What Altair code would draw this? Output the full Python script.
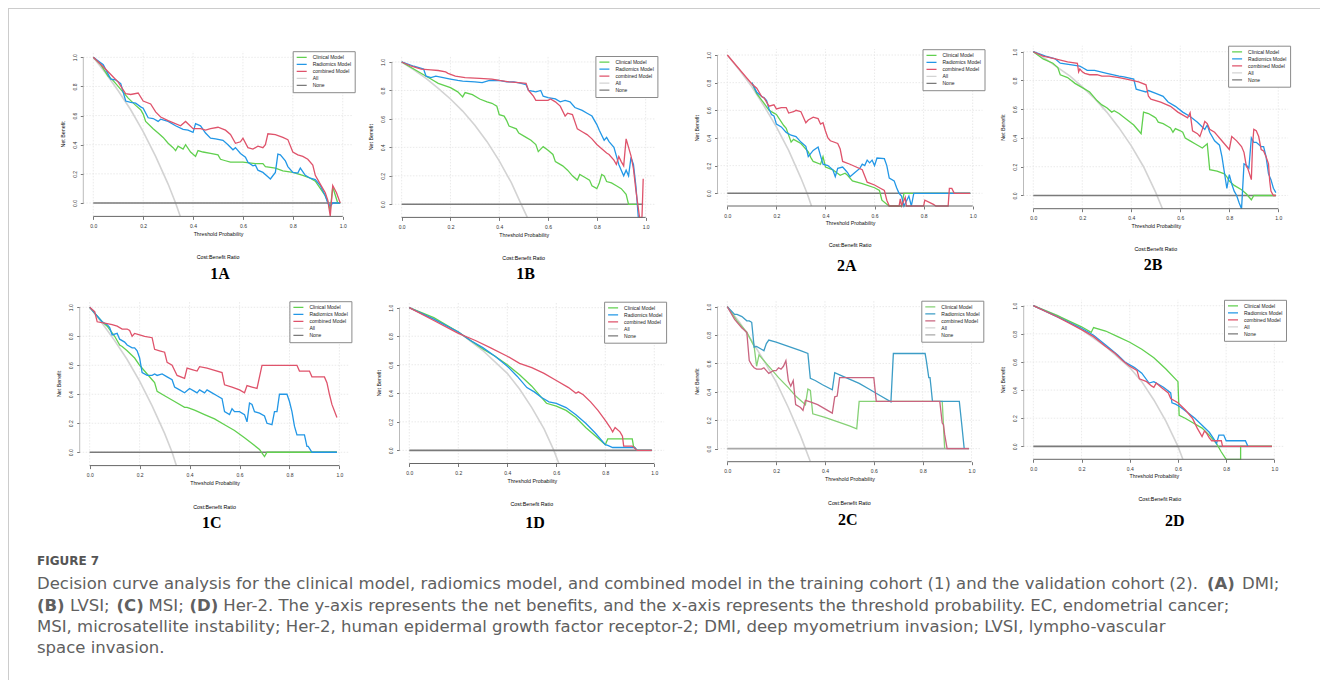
import altair as alt
import pandas as pd

SERIES = ["Clinical Model", "Radiomics Model", "combined Model", "All", "None"]
PALETTE = ["#61D04F", "#2297E6", "#DF536B", "#D3D3D3", "#7A7A7A"]
PALETTE_2C = ["#86D176", "#3C9DC6", "#C9647F", "#D3D3D3", "#A8A8A8"]
TICKS = [0.0, 0.2, 0.4, 0.6, 0.8, 1.0]
NONE_PTS = [(0.0, 0.0), (0.99, 0.0)]

# ---------------- 1A ----------------
A1_CLIN = [(0, 1.0), (0.03, 0.95), (0.06, 0.87), (0.08, 0.84), (0.11, 0.78), (0.14, 0.72), (0.17, 0.67),
           (0.19, 0.64), (0.20, 0.61), (0.21, 0.56), (0.24, 0.51), (0.26, 0.48), (0.28, 0.45), (0.30, 0.41),
           (0.32, 0.38), (0.33, 0.36), (0.34, 0.39), (0.36, 0.37), (0.37, 0.40), (0.39, 0.35), (0.41, 0.32),
           (0.42, 0.36), (0.44, 0.35), (0.47, 0.34), (0.50, 0.33), (0.51, 0.30), (0.53, 0.29), (0.55, 0.28),
           (0.60, 0.28), (0.65, 0.27), (0.68, 0.27), (0.69, 0.25), (0.73, 0.24), (0.76, 0.22), (0.80, 0.21),
           (0.84, 0.19), (0.87, 0.17), (0.89, 0.15), (0.91, 0.10), (0.93, 0.05), (0.94, 0.01), (0.95, -0.05),
           (0.96, 0.11), (0.98, 0.0), (0.99, 0.0)]
A1_RAD = [(0, 1.0), (0.04, 0.95), (0.07, 0.85), (0.09, 0.845), (0.11, 0.82), (0.13, 0.70), (0.15, 0.69),
          (0.17, 0.685), (0.19, 0.66), (0.20, 0.65), (0.22, 0.585), (0.24, 0.58), (0.26, 0.56), (0.27, 0.575),
          (0.30, 0.56), (0.33, 0.53), (0.36, 0.505), (0.38, 0.50), (0.40, 0.485), (0.41, 0.545), (0.43, 0.53),
          (0.45, 0.48), (0.47, 0.445), (0.49, 0.44), (0.52, 0.43), (0.54, 0.40), (0.56, 0.365), (0.57, 0.38),
          (0.59, 0.34), (0.61, 0.315), (0.62, 0.28), (0.64, 0.255), (0.65, 0.26), (0.66, 0.225), (0.68, 0.21),
          (0.70, 0.18), (0.71, 0.165), (0.73, 0.21), (0.74, 0.335), (0.75, 0.33), (0.77, 0.29), (0.78, 0.25),
          (0.80, 0.21), (0.82, 0.205), (0.83, 0.24), (0.85, 0.19), (0.87, 0.17), (0.89, 0.16), (0.91, 0.12),
          (0.93, 0.05), (0.94, 0.0), (0.95, -0.02), (0.96, 0.0), (0.99, 0.0)]
A1_COMB = [(0, 1.0), (0.04, 0.935), (0.08, 0.865), (0.10, 0.83), (0.13, 0.75), (0.15, 0.745), (0.18, 0.755),
           (0.20, 0.70), (0.23, 0.68), (0.25, 0.625), (0.27, 0.59), (0.30, 0.565), (0.35, 0.53), (0.37, 0.56),
           (0.40, 0.51), (0.43, 0.51), (0.45, 0.50), (0.47, 0.51), (0.50, 0.52), (0.53, 0.50), (0.55, 0.47),
           (0.57, 0.41), (0.59, 0.42), (0.60, 0.445), (0.62, 0.38), (0.64, 0.37), (0.66, 0.39), (0.68, 0.38),
           (0.69, 0.40), (0.70, 0.475), (0.73, 0.47), (0.76, 0.45), (0.78, 0.435), (0.80, 0.35), (0.82, 0.33),
           (0.84, 0.32), (0.86, 0.30), (0.88, 0.26), (0.89, 0.19), (0.91, 0.13), (0.93, 0.07), (0.94, 0.02),
           (0.95, -0.09), (0.96, 0.12), (0.975, 0.07), (0.99, 0.0)]
A1_ALL = [(0, 1.0), (0.05, 0.89), (0.10, 0.77), (0.15, 0.64), (0.20, 0.49), (0.25, 0.32), (0.30, 0.13),
          (0.33, 0.0), (0.349, -0.092)]

# ---------------- 1B ----------------
B1_CLIN = [(0, 1.0), (0.03, 0.97), (0.06, 0.94), (0.09, 0.91), (0.12, 0.88), (0.15, 0.85), (0.20, 0.82),
           (0.23, 0.79), (0.25, 0.755), (0.26, 0.785), (0.29, 0.77), (0.32, 0.74), (0.35, 0.72), (0.37, 0.71),
           (0.39, 0.69), (0.40, 0.63), (0.42, 0.62), (0.43, 0.59), (0.44, 0.55), (0.47, 0.53), (0.48, 0.50),
           (0.51, 0.47), (0.53, 0.45), (0.55, 0.42), (0.56, 0.37), (0.58, 0.405), (0.60, 0.38), (0.62, 0.35),
           (0.63, 0.30), (0.66, 0.27), (0.68, 0.24), (0.70, 0.20), (0.72, 0.17), (0.73, 0.21), (0.75, 0.19),
           (0.77, 0.17), (0.78, 0.13), (0.80, 0.11), (0.81, 0.15), (0.82, 0.21), (0.83, 0.20), (0.84, 0.16),
           (0.86, 0.15), (0.88, 0.13), (0.90, 0.11), (0.92, 0.07), (0.93, 0.0), (0.97, 0.0)]
B1_RAD = [(0, 1.0), (0.05, 0.97), (0.09, 0.95), (0.10, 0.90), (0.12, 0.89), (0.14, 0.90), (0.17, 0.89),
          (0.20, 0.88), (0.23, 0.87), (0.25, 0.865), (0.30, 0.86), (0.33, 0.855), (0.36, 0.87), (0.40, 0.87),
          (0.43, 0.86), (0.46, 0.86), (0.49, 0.85), (0.51, 0.84), (0.52, 0.80), (0.55, 0.79), (0.57, 0.80),
          (0.58, 0.76), (0.60, 0.75), (0.63, 0.74), (0.65, 0.72), (0.67, 0.73), (0.69, 0.72), (0.71, 0.68),
          (0.74, 0.66), (0.76, 0.64), (0.78, 0.62), (0.80, 0.56), (0.81, 0.52), (0.83, 0.45), (0.84, 0.47),
          (0.85, 0.44), (0.87, 0.40), (0.88, 0.34), (0.89, 0.28), (0.90, 0.24), (0.91, 0.20), (0.92, 0.24),
          (0.93, 0.20), (0.94, 0.33), (0.95, 0.28), (0.96, 0.13), (0.97, -0.092)]
B1_COMB = [(0, 1.0), (0.04, 0.97), (0.08, 0.95), (0.12, 0.945), (0.15, 0.94), (0.18, 0.93), (0.19, 0.92),
           (0.22, 0.90), (0.26, 0.89), (0.32, 0.885), (0.37, 0.88), (0.40, 0.87), (0.44, 0.86), (0.48, 0.855),
           (0.51, 0.85), (0.52, 0.80), (0.53, 0.78), (0.54, 0.76), (0.55, 0.73), (0.58, 0.73), (0.60, 0.73),
           (0.61, 0.74), (0.63, 0.72), (0.65, 0.69), (0.67, 0.62), (0.68, 0.64), (0.70, 0.63), (0.72, 0.53),
           (0.74, 0.51), (0.76, 0.49), (0.78, 0.46), (0.80, 0.42), (0.82, 0.39), (0.84, 0.36), (0.85, 0.35),
           (0.87, 0.31), (0.88, 0.28), (0.89, 0.335), (0.90, 0.30), (0.91, 0.27), (0.92, 0.46), (0.93, 0.40),
           (0.94, 0.34), (0.95, 0.25), (0.96, 0.10), (0.975, -0.092), (0.985, -0.092), (0.99, 0.18)]
B1_ALL = [(0, 1.0), (0.05, 0.945), (0.10, 0.885), (0.15, 0.815), (0.20, 0.74), (0.25, 0.655), (0.30, 0.555),
          (0.35, 0.44), (0.40, 0.305), (0.45, 0.15), (0.49, 0.0), (0.515, -0.092)]

# ---------------- 2A ----------------
A2_CLIN = [(0.10, 0.80), (0.12, 0.72), (0.15, 0.65), (0.17, 0.60), (0.19, 0.58), (0.20, 0.57), (0.23, 0.49),
           (0.24, 0.47), (0.26, 0.37), (0.27, 0.39), (0.30, 0.36), (0.33, 0.30), (0.34, 0.26), (0.35, 0.23),
           (0.38, 0.21), (0.39, 0.265), (0.40, 0.19), (0.43, 0.17), (0.46, 0.13), (0.48, 0.145), (0.49, 0.13),
           (0.51, 0.09), (0.55, 0.07), (0.60, 0.04), (0.62, 0.02), (0.63, -0.05), (0.65, -0.08), (0.66, -0.092),
           (0.71, -0.092), (0.72, 0.0), (0.99, 0.0)]
A2_RAD = [(0.10, 0.80), (0.12, 0.73), (0.14, 0.70), (0.15, 0.69), (0.16, 0.67), (0.17, 0.61), (0.18, 0.57),
          (0.19, 0.56), (0.20, 0.50), (0.22, 0.48), (0.24, 0.44), (0.26, 0.42), (0.28, 0.41), (0.30, 0.37),
          (0.32, 0.34), (0.33, 0.265), (0.35, 0.31), (0.37, 0.335), (0.38, 0.27), (0.39, 0.21), (0.41, 0.20),
          (0.43, 0.17), (0.44, 0.12), (0.45, 0.18), (0.47, 0.19), (0.48, 0.17), (0.49, 0.15), (0.50, 0.12),
          (0.52, 0.15), (0.54, 0.18), (0.55, 0.21), (0.56, 0.20), (0.57, 0.24), (0.58, 0.22), (0.59, 0.24),
          (0.60, 0.20), (0.61, 0.255), (0.64, 0.25), (0.65, 0.20), (0.66, 0.11), (0.68, 0.09), (0.69, 0.04),
          (0.70, 0.0), (0.71, -0.02), (0.72, -0.092), (0.74, -0.02), (0.75, -0.092), (0.76, 0.0), (0.99, 0.0)]
A2_COMB = [(0, 1.0), (0.10, 0.79), (0.12, 0.76), (0.14, 0.70), (0.15, 0.69), (0.17, 0.63), (0.19, 0.64),
           (0.20, 0.61), (0.22, 0.62), (0.24, 0.62), (0.25, 0.58), (0.27, 0.59), (0.28, 0.60), (0.30, 0.59),
           (0.31, 0.55), (0.32, 0.51), (0.33, 0.53), (0.35, 0.55), (0.37, 0.54), (0.38, 0.50), (0.39, 0.51),
           (0.40, 0.45), (0.41, 0.40), (0.42, 0.38), (0.45, 0.36), (0.46, 0.32), (0.47, 0.23), (0.50, 0.21),
           (0.55, 0.17), (0.57, 0.08), (0.60, 0.06), (0.62, 0.04), (0.64, 0.02), (0.65, -0.05), (0.66, -0.092),
           (0.70, -0.092), (0.705, -0.04), (0.71, -0.092), (0.725, -0.03), (0.73, -0.092), (0.80, -0.092),
           (0.805, -0.05), (0.84, -0.08), (0.85, -0.092), (0.90, -0.092), (0.905, 0.035), (0.915, 0.035),
           (0.925, 0.0), (0.99, 0.0)]
A2_ALL = [(0, 1.0), (0.05, 0.89), (0.10, 0.77), (0.15, 0.63), (0.20, 0.48), (0.25, 0.31), (0.30, 0.11),
          (0.325, 0.0), (0.343, -0.092)]

# ---------------- 2B ----------------
B2_CLIN = [(0, 1.0), (0.04, 0.95), (0.08, 0.92), (0.10, 0.89), (0.11, 0.84), (0.14, 0.82), (0.17, 0.78),
           (0.20, 0.75), (0.23, 0.72), (0.24, 0.70), (0.26, 0.66), (0.28, 0.63), (0.30, 0.61), (0.32, 0.58),
           (0.33, 0.59), (0.35, 0.57), (0.38, 0.53), (0.41, 0.49), (0.43, 0.45), (0.44, 0.43), (0.45, 0.58),
           (0.47, 0.57), (0.49, 0.55), (0.50, 0.54), (0.51, 0.51), (0.53, 0.50), (0.55, 0.48), (0.56, 0.47),
           (0.57, 0.44), (0.58, 0.465), (0.60, 0.45), (0.61, 0.44), (0.62, 0.40), (0.64, 0.38), (0.66, 0.36),
           (0.69, 0.33), (0.71, 0.36), (0.72, 0.18), (0.75, 0.17), (0.78, 0.15), (0.79, 0.13), (0.80, 0.10),
           (0.82, 0.07), (0.85, 0.04), (0.87, 0.01), (0.89, -0.03), (0.90, 0.0), (0.99, 0.0)]
B2_RAD = [(0, 1.0), (0.05, 0.97), (0.09, 0.95), (0.11, 0.92), (0.15, 0.91), (0.19, 0.90), (0.20, 0.89),
          (0.22, 0.87), (0.25, 0.87), (0.30, 0.85), (0.35, 0.83), (0.37, 0.825), (0.41, 0.81), (0.42, 0.74),
          (0.44, 0.73), (0.46, 0.72), (0.47, 0.73), (0.50, 0.71), (0.53, 0.69), (0.55, 0.65), (0.58, 0.62),
          (0.61, 0.58), (0.64, 0.55), (0.67, 0.51), (0.70, 0.46), (0.71, 0.49), (0.72, 0.44), (0.74, 0.38),
          (0.76, 0.35), (0.77, 0.27), (0.78, 0.16), (0.79, 0.05), (0.80, 0.145), (0.81, 0.08), (0.82, 0.03),
          (0.83, 0.0), (0.84, -0.05), (0.85, -0.092), (0.86, 0.22), (0.87, 0.21), (0.88, 0.19), (0.89, 0.40),
          (0.90, 0.37), (0.91, 0.37), (0.93, 0.34), (0.94, 0.34), (0.95, 0.27), (0.96, 0.15), (0.97, 0.11),
          (0.98, 0.05), (0.99, 0.02)]
B2_COMB = [(0, 1.0), (0.04, 0.97), (0.09, 0.95), (0.14, 0.93), (0.18, 0.92), (0.185, 0.86), (0.19, 0.88),
           (0.20, 0.86), (0.21, 0.85), (0.23, 0.84), (0.26, 0.84), (0.28, 0.83), (0.31, 0.83), (0.35, 0.82),
           (0.38, 0.81), (0.43, 0.79), (0.46, 0.77), (0.47, 0.69), (0.48, 0.67), (0.52, 0.65), (0.56, 0.62),
           (0.59, 0.58), (0.63, 0.54), (0.64, 0.575), (0.65, 0.45), (0.67, 0.43), (0.68, 0.41), (0.69, 0.46),
           (0.70, 0.515), (0.71, 0.50), (0.72, 0.46), (0.74, 0.44), (0.75, 0.42), (0.76, 0.40), (0.78, 0.36),
           (0.80, 0.32), (0.81, 0.41), (0.83, 0.38), (0.85, 0.34), (0.86, 0.30), (0.87, 0.20), (0.875, 0.19),
           (0.89, 0.11), (0.895, 0.35), (0.90, 0.46), (0.91, 0.45), (0.92, 0.41), (0.93, 0.32), (0.94, 0.31),
           (0.95, 0.27), (0.96, 0.22), (0.965, 0.10), (0.97, 0.03), (0.98, 0.0), (0.99, 0.0)]
B2_ALL = [(0, 1.0), (0.05, 0.95), (0.10, 0.89), (0.15, 0.83), (0.20, 0.755), (0.25, 0.675), (0.30, 0.58),
          (0.35, 0.47), (0.40, 0.345), (0.45, 0.20), (0.50, 0.02), (0.527, -0.092)]

# ---------------- 1C ----------------
C1_CLIN = [(0, 1.0), (0.02, 0.96), (0.05, 0.90), (0.07, 0.87), (0.10, 0.80), (0.12, 0.74), (0.13, 0.73),
           (0.15, 0.70), (0.18, 0.65), (0.20, 0.60), (0.23, 0.54), (0.25, 0.50), (0.26, 0.48), (0.27, 0.42),
           (0.30, 0.39), (0.34, 0.35), (0.38, 0.31), (0.39, 0.31), (0.42, 0.29), (0.46, 0.26), (0.50, 0.23),
           (0.54, 0.19), (0.58, 0.15), (0.62, 0.10), (0.65, 0.06), (0.68, 0.02), (0.70, -0.03), (0.71, 0.0),
           (0.99, 0.0)]
C1_RAD = [(0, 1.0), (0.02, 0.96), (0.05, 0.90), (0.07, 0.88), (0.08, 0.86), (0.09, 0.81), (0.11, 0.82),
          (0.12, 0.78), (0.14, 0.76), (0.15, 0.74), (0.17, 0.72), (0.18, 0.72), (0.19, 0.70), (0.20, 0.65),
          (0.21, 0.55), (0.23, 0.53), (0.25, 0.53), (0.26, 0.54), (0.27, 0.53), (0.29, 0.54), (0.31, 0.52),
          (0.33, 0.50), (0.34, 0.45), (0.36, 0.43), (0.38, 0.41), (0.40, 0.44), (0.42, 0.42), (0.43, 0.41),
          (0.44, 0.43), (0.46, 0.41), (0.47, 0.43), (0.49, 0.41), (0.51, 0.39), (0.53, 0.37), (0.54, 0.28),
          (0.56, 0.26), (0.57, 0.30), (0.58, 0.28), (0.60, 0.28), (0.62, 0.26), (0.63, 0.21), (0.64, 0.34),
          (0.65, 0.33), (0.66, 0.28), (0.68, 0.27), (0.70, 0.25), (0.71, 0.20), (0.73, 0.19), (0.74, 0.28),
          (0.75, 0.28), (0.76, 0.40), (0.79, 0.40), (0.80, 0.35), (0.81, 0.28), (0.82, 0.18), (0.83, 0.12),
          (0.86, 0.12), (0.87, 0.04), (0.875, 0.04), (0.89, 0.0), (0.99, 0.0)]
C1_COMB = [(0, 1.0), (0.02, 0.97), (0.03, 0.90), (0.06, 0.89), (0.09, 0.88), (0.11, 0.87), (0.13, 0.85),
           (0.15, 0.85), (0.16, 0.84), (0.17, 0.80), (0.18, 0.82), (0.20, 0.81), (0.22, 0.80), (0.25, 0.79),
           (0.26, 0.71), (0.28, 0.70), (0.30, 0.69), (0.31, 0.62), (0.33, 0.60), (0.35, 0.53), (0.38, 0.51),
           (0.39, 0.58), (0.41, 0.57), (0.43, 0.56), (0.44, 0.59), (0.47, 0.58), (0.49, 0.57), (0.53, 0.55),
           (0.54, 0.465), (0.57, 0.45), (0.60, 0.43), (0.62, 0.41), (0.63, 0.46), (0.65, 0.45), (0.67, 0.44),
           (0.69, 0.60), (0.83, 0.60), (0.84, 0.56), (0.88, 0.56), (0.89, 0.52), (0.94, 0.52), (0.95, 0.48),
           (0.96, 0.40), (0.97, 0.33), (0.99, 0.24)]
C1_ALL = [(0, 1.0), (0.05, 0.89), (0.10, 0.77), (0.15, 0.64), (0.20, 0.49), (0.25, 0.32), (0.30, 0.13),
          (0.33, 0.0), (0.347, -0.092)]

# ---------------- 1D ----------------
D1_CLIN = [(0, 1.0), (0.10, 0.93), (0.20, 0.83), (0.25, 0.77), (0.30, 0.71), (0.35, 0.66), (0.40, 0.60),
           (0.45, 0.53), (0.50, 0.45), (0.54, 0.37), (0.56, 0.33), (0.60, 0.31), (0.64, 0.28), (0.68, 0.23),
           (0.72, 0.16), (0.76, 0.10), (0.80, 0.04), (0.81, 0.08), (0.91, 0.08), (0.915, 0.03), (0.93, 0.0),
           (0.99, 0.0)]
D1_RAD = [(0, 1.0), (0.10, 0.92), (0.20, 0.83), (0.25, 0.77), (0.30, 0.72), (0.35, 0.66), (0.40, 0.59),
          (0.44, 0.52), (0.48, 0.44), (0.51, 0.41), (0.54, 0.37), (0.57, 0.34), (0.60, 0.33), (0.64, 0.30),
          (0.68, 0.25), (0.72, 0.19), (0.76, 0.12), (0.80, 0.04), (0.81, 0.035), (0.83, 0.02), (0.92, 0.02),
          (0.93, 0.0), (0.99, 0.0)]
D1_COMB = [(0, 1.0), (0.10, 0.91), (0.20, 0.82), (0.27, 0.77), (0.33, 0.72), (0.40, 0.66), (0.45, 0.61),
           (0.50, 0.58), (0.55, 0.54), (0.60, 0.49), (0.65, 0.44), (0.68, 0.40), (0.69, 0.41), (0.71, 0.39),
           (0.74, 0.34), (0.77, 0.28), (0.80, 0.21), (0.82, 0.16), (0.83, 0.13), (0.84, 0.16), (0.86, 0.13),
           (0.87, 0.10), (0.875, 0.03), (0.91, 0.03), (0.93, 0.0), (0.99, 0.0)]
D1_ALL = [(0, 1.0), (0.10, 0.92), (0.20, 0.83), (0.30, 0.70), (0.40, 0.54), (0.45, 0.43), (0.50, 0.30),
          (0.55, 0.15), (0.59, 0.0), (0.61, -0.09)]

# ---------------- 2C ----------------
C2_CLIN = [(0, 1.0), (0.04, 0.90), (0.08, 0.82), (0.11, 0.72), (0.12, 0.58), (0.13, 0.66), (0.15, 0.62),
           (0.18, 0.56), (0.21, 0.50), (0.25, 0.43), (0.28, 0.37), (0.32, 0.31), (0.33, 0.42), (0.34, 0.41),
           (0.35, 0.245), (0.40, 0.22), (0.45, 0.19), (0.50, 0.16), (0.53, 0.14), (0.54, 0.333), (0.88, 0.333),
           (0.89, 0.0)]
C2_RAD = [(0, 1.0), (0.03, 0.945), (0.04, 0.945), (0.06, 0.93), (0.08, 0.90), (0.09, 0.90), (0.10, 0.89),
          (0.11, 0.715), (0.12, 0.72), (0.14, 0.70), (0.15, 0.69), (0.16, 0.74), (0.17, 0.765), (0.20, 0.75),
          (0.25, 0.72), (0.30, 0.69), (0.33, 0.67), (0.34, 0.495), (0.36, 0.48), (0.39, 0.45), (0.43, 0.415),
          (0.44, 0.535), (0.46, 0.52), (0.50, 0.49), (0.54, 0.46), (0.58, 0.42), (0.62, 0.38), (0.67, 0.33),
          (0.68, 0.67), (0.81, 0.67), (0.815, 0.62), (0.825, 0.50), (0.83, 0.50), (0.835, 0.42), (0.84, 0.333),
          (0.95, 0.333), (0.96, 0.17), (0.97, 0.0)]
C2_COMB = [(0, 1.0), (0.03, 0.91), (0.06, 0.85), (0.08, 0.82), (0.09, 0.62), (0.10, 0.59), (0.11, 0.57),
           (0.12, 0.56), (0.14, 0.56), (0.15, 0.57), (0.16, 0.55), (0.17, 0.53), (0.19, 0.55), (0.20, 0.55),
           (0.21, 0.57), (0.22, 0.56), (0.23, 0.58), (0.24, 0.62), (0.25, 0.48), (0.26, 0.44), (0.27, 0.48),
           (0.28, 0.31), (0.30, 0.29), (0.31, 0.27), (0.32, 0.34), (0.34, 0.33), (0.37, 0.31), (0.40, 0.28),
           (0.43, 0.25), (0.44, 0.365), (0.45, 0.37), (0.46, 0.50), (0.60, 0.50), (0.61, 0.333), (0.87, 0.333),
           (0.88, 0.18), (0.885, 0.17), (0.89, 0.10), (0.90, 0.0), (0.99, 0.0)]
C2_ALL = [(0, 1.0), (0.05, 0.89), (0.10, 0.76), (0.15, 0.62), (0.20, 0.47), (0.25, 0.29), (0.30, 0.09),
          (0.32, 0.0), (0.34, -0.09)]

# ---------------- 2D ----------------
D2_CLIN = [(0, 1.0), (0.10, 0.93), (0.20, 0.85), (0.24, 0.81), (0.25, 0.845), (0.30, 0.82), (0.35, 0.78),
           (0.40, 0.74), (0.45, 0.69), (0.50, 0.63), (0.55, 0.55), (0.60, 0.46), (0.605, 0.22), (0.63, 0.20),
           (0.66, 0.17), (0.70, 0.13), (0.73, 0.08), (0.76, 0.02), (0.78, -0.04), (0.80, -0.092),
           (0.86, -0.092), (0.86, 0.0), (0.99, 0.0)]
D2_RAD = [(0, 1.0), (0.10, 0.92), (0.20, 0.84), (0.25, 0.79), (0.30, 0.72), (0.35, 0.65), (0.38, 0.60),
          (0.42, 0.56), (0.45, 0.52), (0.48, 0.45), (0.50, 0.46), (0.51, 0.45), (0.54, 0.42), (0.57, 0.38),
          (0.575, 0.31), (0.59, 0.30), (0.61, 0.28), (0.64, 0.24), (0.67, 0.20), (0.70, 0.15), (0.73, 0.10),
          (0.75, 0.05), (0.76, 0.02), (0.77, 0.08), (0.79, 0.08), (0.80, 0.04), (0.88, 0.04), (0.89, 0.0)]
D2_COMB = [(0, 1.0), (0.10, 0.92), (0.20, 0.83), (0.25, 0.78), (0.30, 0.71), (0.34, 0.66), (0.37, 0.61),
           (0.40, 0.57), (0.43, 0.54), (0.44, 0.48), (0.47, 0.46), (0.49, 0.43), (0.50, 0.42), (0.51, 0.45),
           (0.53, 0.42), (0.56, 0.38), (0.57, 0.34), (0.60, 0.31), (0.63, 0.26), (0.66, 0.20), (0.68, 0.13),
           (0.70, 0.07), (0.71, 0.11), (0.72, 0.09), (0.73, 0.06), (0.74, 0.04), (0.78, 0.04), (0.785, 0.0),
           (0.99, 0.0)]
D2_ALL = [(0, 1.0), (0.10, 0.93), (0.20, 0.83), (0.30, 0.71), (0.40, 0.56), (0.45, 0.46), (0.50, 0.33),
          (0.55, 0.18), (0.60, 0.0), (0.62, -0.09)]

CAPTION_HEAD = "FIGURE 7"
CAPTION = [
    [("Decision curve analysis for the clinical model, radiomics model, and combined model in the training cohort (1) and the validation cohort (2).", False, 37),
     ("(A)", True, 1207), ("DMI;", False, 1242)],
    [("(B)", True, 37), ("LVSI;", False, 70), ("(C)", True, 116.5), ("MSI;", False, 148.6), ("(D)", True, 189.4),
     ("Her-2. The y-axis represents the net benefits, and the x-axis represents the threshold probability. EC, endometrial cancer;", False, 223.3)],
    [("MSI, microsatellite instability; Her-2, human epidermal growth factor receptor-2; DMI, deep myometrium invasion; LVSI, lympho-vascular", False, 37)],
    [("space invasion.", False, 37)],
]
CAPTION_Y = [584, 605.5, 627, 648]

# ---------------- layout (page pixels; the chart origin sits at page 8,8) ----------------
W, H = 1312, 672
XDOM = [-0.04, 1.04]
YDOM = [-0.092, 1.042]
PANELS = [
    # name, curves, palette, (plot left, top, w, h), (label dx, dy, cb dx, cb dy)
    ("1A", (A1_CLIN, A1_RAD, A1_COMB, A1_ALL), PALETTE, (83.3, 51.2, 269.4, 165.2), (2, 57.3, 0, 41)),
    ("1B", (B1_CLIN, B1_RAD, B1_COMB, B1_ALL), PALETTE, (391.9, 56.0, 263.5, 161.4), (2, 56.6, 0, 40.6)),
    ("2A", (A2_CLIN, A2_RAD, A2_COMB, A2_ALL), PALETTE, (717.5, 49.2, 265.0, 156.8), (-3.3, 60.3, 0, 39.3)),
    ("2B", (B2_CLIN, B2_RAD, B2_COMB, B2_ALL), PALETTE, (1023.5, 45.7, 264.6, 163.0), (-2.8, 56.7, 0, 40.7)),
    ("1C", (C1_CLIN, C1_RAD, C1_COMB, C1_ALL), PALETTE, (79.7, 301.2, 269.7, 164.4), (-2.8, 57.7, 0, 41.3)),
    ("1D", (D1_CLIN, D1_RAD, D1_COMB, D1_ALL), PALETTE, (399.5, 301.7, 264.6, 161.8), (3.2, 59.4, 0, 40.7)),
    ("2C", (C2_CLIN, C2_RAD, C2_COMB, C2_ALL), PALETTE_2C, (717.5, 300.7, 263.8, 161.0), (-1.5, 58.3, 0, 41)),
    ("2D", (D2_CLIN, D2_RAD, D2_COMB, D2_ALL), PALETTE, (1023.7, 299.8, 260.3, 159.5), (21, 61.3, 6, 39.6)),
]
LEGEND_W = 60
FRAME_COLOR = "#cccccc"
SANS = "Liberation Sans"
CAP_FONT = "DejaVu Sans"
CAP_SIZE = 16.5


def text_layer(text, x, y, size, font, weight="normal", align="center", color="#000000"):
    return alt.Chart(pd.DataFrame({"t": [text]})).mark_text(
        font=font, fontSize=size, fontWeight=weight, align=align, baseline="middle", color=color
    ).encode(text="t:N", x=alt.value(x), y=alt.value(y))


def build_panel(name, curves, palette, box, lab):
    pl, pt, w, h = box
    x0, y0 = pl - 8, pt - 8
    rows = []
    for s, pts in zip(SERIES, list(curves) + [NONE_PTS]):
        for i, (x, y) in enumerate(pts):
            rows.append({"series": s, "x": x, "y": y, "i": i})
    df = pd.DataFrame(rows)

    xs = alt.Scale(domain=XDOM, range=[x0, x0 + w], nice=False, zero=False)
    ys = alt.Scale(domain=YDOM, range=[y0 + h, y0], nice=False, zero=False)
    common = dict(values=TICKS, format=".1f", labelFont=SANS, labelFontSize=5, labelColor="#333333",
                  titleFont=SANS, titleFontSize=5.3, titleFontWeight="normal", titleColor="#111111",
                  tickSize=3, tickColor="#555555", tickWidth=0.8, domain=False, grid=False, labelFlush=False)
    xaxis = alt.Axis(orient="bottom", offset=(y0 + h) - H, title="Threshold Probability",
                     labelPadding=4.1, titlePadding=2.5, **common)
    yaxis = alt.Axis(orient="left", offset=-x0, title="Net Benefit", labelAngle=270, labelAlign="center",
                     labelBaseline="bottom", labelPadding=3.2, titlePadding=6.8, **common)
    legend = alt.Legend(title=None, orient="none", legendX=x0 + w - LEGEND_W, legendY=y0, padding=3,
                        strokeColor="#8a8a8a", fillColor="white", symbolType="stroke", symbolSize=100,
                        symbolStrokeWidth=1.3, labelFont=SANS, labelFontSize=5, labelColor="#222222",
                        labelOffset=5, clipHeight=6.2, rowPadding=0, labelLimit=200)
    color = alt.Color("series:N", scale=alt.Scale(domain=SERIES, range=palette), legend=legend)
    X = alt.X("x:Q", scale=xs, axis=xaxis)
    Y = alt.Y("y:Q", scale=ys, axis=yaxis)

    ticks_df = pd.DataFrame({"x": TICKS, "y": TICKS})
    grid_style = dict(color="#e4e4e4", strokeDash=[1.5, 1.5], strokeWidth=0.8)
    grid_v = alt.Chart(ticks_df).mark_rule(**grid_style).encode(
        x=X, y=alt.YDatum(YDOM[0], scale=ys, axis=yaxis), y2=alt.Y2Datum(YDOM[1]))
    grid_h = alt.Chart(ticks_df).mark_rule(**grid_style).encode(
        y=Y, x=alt.XDatum(XDOM[0], scale=xs, axis=xaxis), x2=alt.X2Datum(XDOM[1]))

    base = alt.Chart(df)
    ref = base.transform_filter(
        alt.FieldOneOfPredicate(field="series", oneOf=["All", "None"])
    ).mark_line(strokeWidth=1.6).encode(x=X, y=Y, color=color, order="i:Q")
    models = base.transform_filter(
        alt.FieldOneOfPredicate(field="series", oneOf=SERIES[:3])
    ).mark_line(strokeWidth=1.3).encode(x=X, y=Y, color=color, order="i:Q")

    span = pd.DataFrame({"x": [0.0], "x2": [1.0], "y": [0.0], "y2": [1.0]})
    xline = alt.Chart(span).mark_rule(color="#666666", strokeWidth=1).encode(
        x=X, x2="x2:Q", y=alt.YDatum(YDOM[0], scale=ys, axis=yaxis))
    yline = alt.Chart(span).mark_rule(color="#aaaaaa", strokeWidth=0.8).encode(
        y=Y, y2="y2:Q", x=alt.XDatum(XDOM[0], scale=xs, axis=xaxis))

    return alt.layer(grid_v, grid_h, ref, models, xline, yline)


def panel_texts(name, box, lab):
    pl, pt, w, h = box
    x0, y0 = pl - 8, pt - 8
    lab_dx, lab_dy, cb_dx, cb_dy = lab
    return [text_layer("Cost:Benefit Ratio", x0 + w / 2 + cb_dx, y0 + h + cb_dy, 5.3, SANS),
            text_layer(name, x0 + w / 2 + lab_dx, y0 + h + lab_dy, 16, "Liberation Serif", weight="bold")]


layers = []
texts = []
for name, curves, palette, box, lab in PANELS:
    layers.append(build_panel(name, curves, palette, box, lab))
    texts += panel_texts(name, box, lab)

frame = [
    alt.Chart(pd.DataFrame({"k": [0]})).mark_rule(color=FRAME_COLOR, strokeWidth=1).encode(
        x=alt.value(0), x2=alt.value(W), y=alt.value(0.5)),
    alt.Chart(pd.DataFrame({"k": [0]})).mark_rule(color=FRAME_COLOR, strokeWidth=1).encode(
        x=alt.value(0.5), y=alt.value(0), y2=alt.value(H)),
]
cap = [text_layer(CAPTION_HEAD, 37 - 8, 561 - 8, 12, CAP_FONT, weight="bold", align="left", color="#555555")]
for line, yy in zip(CAPTION, CAPTION_Y):
    for txt, bold, xx in line:
        cap.append(text_layer(txt, xx - 8, yy - 8, CAP_SIZE, CAP_FONT, weight="bold" if bold else "normal",
                              align="left", color="#606060"))

chart = alt.layer(*layers, *texts, *frame, *cap).resolve_scale(
    x="independent", y="independent", color="independent"
).resolve_legend(color="independent").properties(
    width=W, height=H, padding=0, background="white",
    autosize=alt.AutoSizeParams(type="none")
).configure_view(strokeWidth=0)

chart.save("out.html", embed_options={"renderer": "svg", "actions": False})
